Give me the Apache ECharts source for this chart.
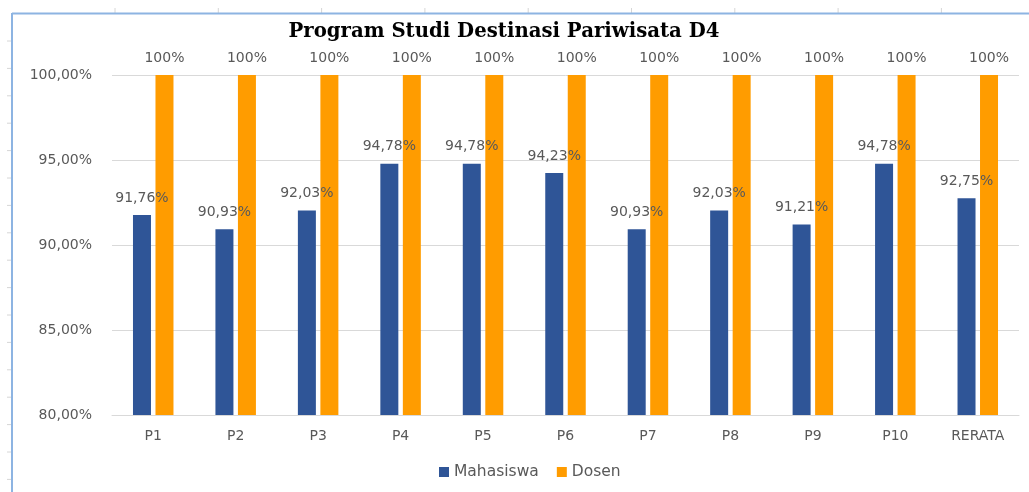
<!DOCTYPE html>
<html>
<head>
<meta charset="utf-8">
<script src="https://cdn.jsdelivr.net/npm/echarts@6/dist/echarts.min.js"></script>
<style>
  html, body { margin: 0; padding: 0; background: #fff; }
  #chart { width: 1029px; height: 492px; }
</style>
</head>
<body>
<div id="chart"></div>
<script>
// data
var categories = ["P1", "P2", "P3", "P4", "P5", "P6", "P7", "P8", "P9", "P10", "RERATA"];
var mahasiswa = [91.76, 90.93, 92.03, 94.78, 94.78, 94.23, 90.93, 92.03, 91.21, 94.78, 92.75];
var dosen = [100, 100, 100, 100, 100, 100, 100, 100, 100, 100, 100];
var yTicks = [80, 85, 90, 95, 100];

var labelFont = "DejaVu Sans";
var myChart = echarts.init(document.getElementById("chart"));

// spreadsheet frame around the chart (just decoration)
var frame = [];
for (var x = 115; x < 1029; x += 103.3) {
  frame.push({ type: "line", shape: { x1: x, y1: 8, x2: x, y2: 13 }, style: { stroke: "#d6d6d6", lineWidth: 1 } });
}
for (var y = 41; y < 492; y += 27.4) {
  frame.push({ type: "line", shape: { x1: 7, y1: y, x2: 11, y2: y }, style: { stroke: "#d6d6d6", lineWidth: 1 } });
}
frame.push({ type: "line", shape: { x1: 12, y1: 13.5, x2: 1029, y2: 13.5 }, style: { stroke: "#8db4e2", lineWidth: 2 } });
frame.push({ type: "line", shape: { x1: 12, y1: 13, x2: 12, y2: 492 }, style: { stroke: "#8db4e2", lineWidth: 2 } });

myChart.setOption({
  animation: false,
  backgroundColor: "#fff",
  title: {
    text: "Program Studi Destinasi Pariwisata D4",
    left: 499,
    textAlign: "center",
    top: 17,
    textStyle: {
      fontFamily: "DejaVu Serif",
      fontWeight: "bold",
      fontSize: 19.7,
      color: "#000"
    }
  },
  legend: {
    data: ["Mahasiswa", "Dosen"],
    left: 434,
    bottom: 7,
    itemWidth: 10,
    itemHeight: 10,
    itemGap: 18,
    icon: "rect",
    textStyle: { color: "#595959", fontSize: 15.5, fontFamily: labelFont }
  },
  grid: {
    left: 112,
    right: 10,
    top: 75,
    bottom: 77
  },
  xAxis: {
    type: "category",
    data: categories,
    axisLine: { lineStyle: { color: "#d9d9d9", width: 1 } },
    axisTick: { show: false },
    axisLabel: { color: "#595959", fontSize: 14, margin: 14, fontFamily: labelFont }
  },
  yAxis: {
    type: "value",
    min: yTicks[0],
    max: yTicks[yTicks.length - 1],
    interval: 5,
    axisLine: { show: false },
    axisTick: { show: false },
    splitLine: { lineStyle: { color: "#d9d9d9" } },
    axisLabel: {
      color: "#595959",
      fontSize: 14,
      margin: 20,
      fontFamily: labelFont,
      formatter: function (v) {
        return v.toFixed(2).replace(".", ",") + "%";
      }
    }
  },
  series: [
    {
      name: "Mahasiswa",
      type: "bar",
      data: mahasiswa,
      barWidth: 18,
      barGap: "25%",
      itemStyle: { color: "#2f5597" },
      label: {
        show: true,
        position: "top",
        distance: 10,
        color: "#595959",
        fontSize: 14,
        fontFamily: labelFont,
        formatter: function (p) {
          return p.value.toFixed(2).replace(".", ",") + "%";
        }
      }
    },
    {
      name: "Dosen",
      type: "bar",
      data: dosen,
      barWidth: 18,
      barGap: "25%",
      itemStyle: { color: "#ff9c00" },
      label: {
        show: true,
        position: "top",
        distance: 10,
        color: "#595959",
        fontSize: 14,
        fontFamily: labelFont,
        formatter: function (p) {
          return p.value + "%";
        }
      }
    }
  ],
  graphic: frame
});

window.onresize = function () {
  myChart.resize();
};
</script>
</body>
</html>
